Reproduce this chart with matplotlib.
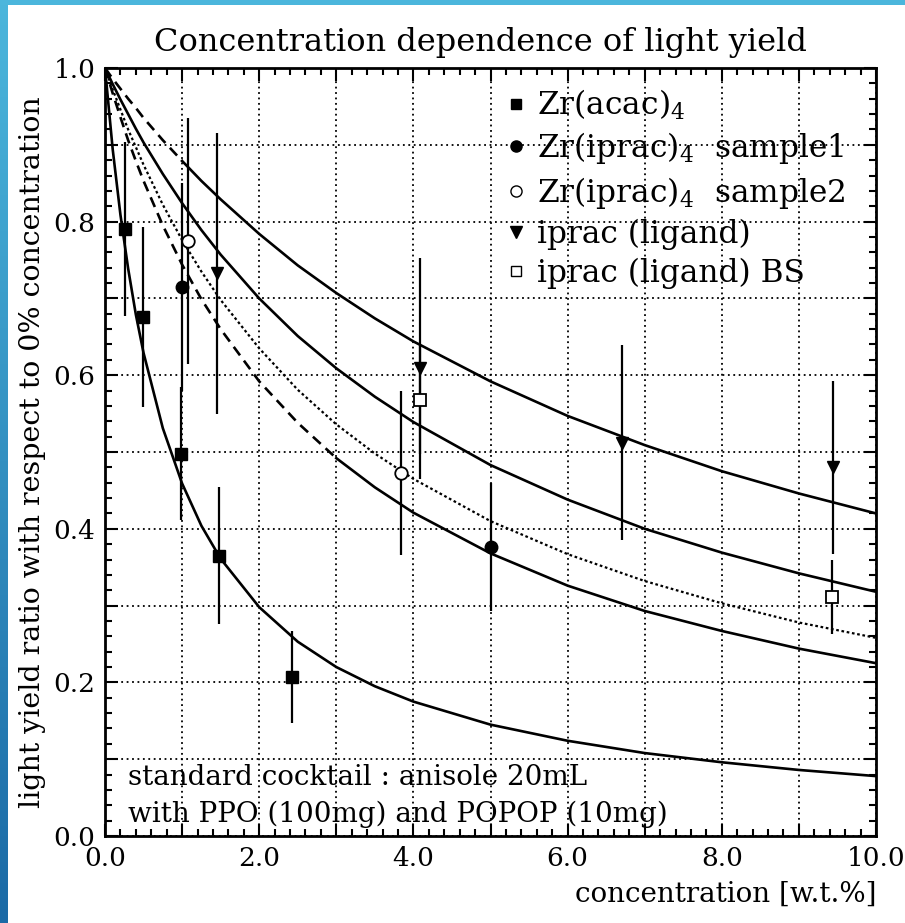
import numpy as np
import matplotlib.pyplot as plt
from matplotlib.lines import Line2D
from matplotlib.ticker import MultipleLocator, FuncFormatter
from matplotlib.colors import LinearSegmentedColormap

plt.rcParams['font.family'] = 'DejaVu Serif'
plt.rcParams['mathtext.fontset'] = 'dejavuserif'

# measured points: concentration [w.t.%], light yield ratio, error
acac_x = [0.26, 0.49, 0.99, 1.48, 2.43]
acac_y = [0.790, 0.676, 0.498, 0.365, 0.207]
acac_err = [0.113, 0.117, 0.087, 0.089, 0.060]

s1_x = [1.00, 5.00]
s1_y = [0.715, 0.376]
s1_err = [0.135, 0.083]

s2_x = [1.08, 3.84]
s2_y = [0.775, 0.473]
s2_err = [0.160, 0.107]

lig_x = [1.45, 4.09, 6.71, 9.44]
lig_y = [0.733, 0.609, 0.512, 0.480]
lig_err = [0.183, 0.144, 0.127, 0.113]

bs_x = [4.09, 9.43]
bs_y = [0.568, 0.311]
bs_err = [0.070, 0.048]

# fitted curves
fit_x = [0, 0.1, 0.2, 0.3, 0.4, 0.5, 0.75, 1, 1.25, 1.5, 2, 2.5, 3, 3.5, 4, 5, 6, 7, 8, 9, 10]
fit_acac = [1.0, 0.894, 0.809, 0.739, 0.679, 0.629, 0.531, 0.459, 0.404, 0.361, 0.298,
            0.253, 0.220, 0.195, 0.175, 0.145, 0.124, 0.108, 0.096, 0.086, 0.078]
fit_lig = [1.0, 0.986, 0.973, 0.960, 0.948, 0.935, 0.906, 0.879, 0.853, 0.829, 0.784,
           0.743, 0.707, 0.674, 0.644, 0.592, 0.547, 0.509, 0.475, 0.446, 0.420]
fit_bs = [1.0, 0.979, 0.959, 0.940, 0.921, 0.903, 0.862, 0.824, 0.789, 0.757, 0.700,
          0.651, 0.609, 0.572, 0.539, 0.483, 0.438, 0.400, 0.369, 0.342, 0.318]
fit_s2 = [1.0, 0.972, 0.946, 0.920, 0.897, 0.874, 0.822, 0.776, 0.735, 0.698, 0.635,
          0.581, 0.536, 0.498, 0.465, 0.410, 0.367, 0.332, 0.303, 0.278, 0.258]
fit_s1 = [1.0, 0.967, 0.936, 0.906, 0.879, 0.853, 0.795, 0.744, 0.699, 0.660, 0.592,
          0.538, 0.492, 0.454, 0.421, 0.368, 0.326, 0.293, 0.267, 0.244, 0.225]

labels = ['Zr(acac)$_4$', 'Zr(iprac)$_4$  sample1', 'Zr(iprac)$_4$  sample2',
          'iprac (ligand)', 'iprac (ligand) BS']

fig = plt.figure(figsize=(9.05, 9.23), dpi=100)
ax = fig.add_axes([105 / 905, 87 / 923, 771 / 905, 768 / 923])

# blue frame strips
grad = np.linspace(0, 1, 256).reshape(-1, 1)
blue = LinearSegmentedColormap.from_list('b', ['#4bb6dc', '#1b6aa6'])
lax = fig.add_axes([0, 0, 7 / 905, 1])
lax.imshow(grad, aspect='auto', cmap=blue)
lax.axis('off')
tax = fig.add_axes([0, 1 - 5 / 923, 1, 5 / 923])
tax.imshow(np.full((1, 2), 0.0), aspect='auto', cmap=blue, vmin=0, vmax=1)
tax.axis('off')

lw = 1.9
k1 = 13  # sample1 curve drawn dashed up to x=3
ax.plot(fit_x, fit_acac, color='k', lw=lw)
ax.plot(fit_x[:8], fit_lig[:8], color='k', lw=lw, dashes=(4, 2.5))
ax.plot(fit_x[7:], fit_lig[7:], color='k', lw=lw)
ax.plot(fit_x, fit_bs, color='k', lw=lw)
ax.plot(fit_x, fit_s2, color='k', lw=1.6, dashes=(1.2, 1.2))
ax.plot(fit_x[:k1], fit_s1[:k1], color='k', lw=lw, dashes=(4, 2.5))
ax.plot(fit_x[k1 - 1:], fit_s1[k1 - 1:], color='k', lw=lw)

eb = dict(fmt='none', ecolor='k', elinewidth=1.6, capsize=0)
ax.errorbar(acac_x, acac_y, yerr=acac_err, **eb)
ax.errorbar(s1_x, s1_y, yerr=s1_err, **eb)
ax.errorbar(s2_x, s2_y, yerr=s2_err, **eb)
ax.errorbar(lig_x, lig_y, yerr=lig_err, **eb)
ax.errorbar(bs_x, bs_y, yerr=bs_err, **eb)

ms = 9
ax.plot(acac_x, acac_y, 's', ms=ms, mfc='k', mec='k', ls='none')
ax.plot(s1_x, s1_y, 'o', ms=ms, mfc='k', mec='k', ls='none')
ax.plot(s2_x, s2_y, 'o', ms=ms, mfc='white', mec='k', mew=1.3, ls='none')
ax.plot(lig_x, lig_y, 'v', ms=ms, mfc='k', mec='k', ls='none')
ax.plot(bs_x, bs_y, 's', ms=ms, mfc='white', mec='k', mew=1.3, ls='none')

ax.set_xlim(0, 10)
ax.set_ylim(0, 1)
ax.xaxis.set_major_locator(MultipleLocator(1.0))
ax.xaxis.set_minor_locator(MultipleLocator(0.2))
ax.yaxis.set_major_locator(MultipleLocator(0.1))
ax.yaxis.set_minor_locator(MultipleLocator(0.02))
ax.xaxis.set_major_formatter(FuncFormatter(lambda v, p: f'{v:.1f}' if round(v) % 2 == 0 else ''))
ax.yaxis.set_major_formatter(FuncFormatter(lambda v, p: f'{v:.1f}' if round(v * 10) % 2 == 0 else ''))
ax.tick_params(which='both', direction='in', top=True, right=True, labelsize=19, width=1.5)
ax.tick_params(which='major', length=9, pad=7)
ax.tick_params(which='minor', length=5)
ax.grid(True, which='major', color='k', lw=1.3, ls=(0, (1, 2)))
for s in ax.spines.values():
    s.set_linewidth(2)

ax.set_title('Concentration dependence of light yield', fontsize=23, pad=12, x=0.487)
ax.set_xlabel('concentration [w.t.%]', fontsize=20, loc='right', labelpad=7)
ax.set_ylabel('light yield ratio with respect to 0% concentration', fontsize=20.5, labelpad=5)

ax.text(0.3, 0.066, 'standard cocktail : anisole 20mL', fontsize=20, va='baseline')
ax.text(0.3, 0.018, 'with PPO (100mg) and POPOP (10mg)', fontsize=20, va='baseline')

handles = [
    Line2D([], [], marker='s', ms=7, mfc='k', mec='k', ls='none'),
    Line2D([], [], marker='o', ms=8, mfc='k', mec='k', ls='none'),
    Line2D([], [], marker='o', ms=8, mfc='white', mec='k', ls='none'),
    Line2D([], [], marker='v', ms=8, mfc='k', mec='k', ls='none'),
    Line2D([], [], marker='s', ms=7, mfc='white', mec='k', ls='none'),
]
ax.legend(handles, labels, loc='upper left', bbox_to_anchor=(0.505, 0.99), frameon=False,
          fontsize=22.5, handlelength=0.6, handletextpad=0.35, labelspacing=0.26,
          borderaxespad=0)

fig.savefig('out.png', dpi=100)
